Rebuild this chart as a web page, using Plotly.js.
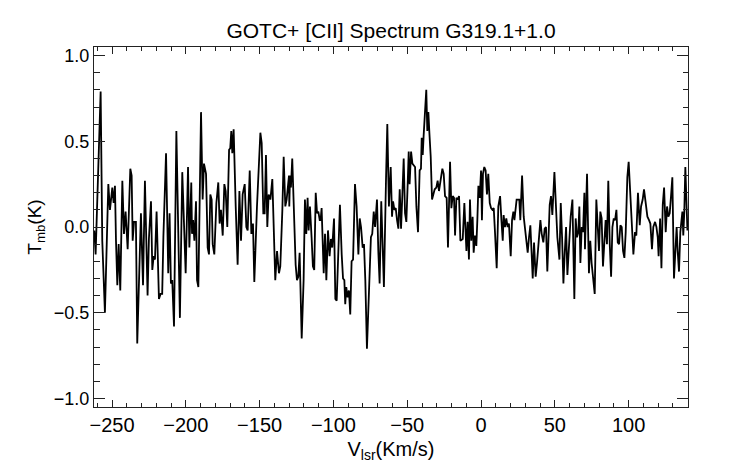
<!DOCTYPE html>
<html>
<head>
<meta charset="utf-8">
<script src="https://cdn.plot.ly/plotly-3.0.1.min.js"></script>
<style>html,body{margin:0;padding:0;background:#fff;}#chart{width:742px;height:464px;}</style>
</head>
<body>
<div id="chart"></div>
<script>
// Velocity (km/s) and main-beam temperature (K), in six segments
const vel1 = [-262.0,-261.1,-257.7,-256.6,-254.8,-252.5,-251.4,-249.8,-248.9,-248.0,-247.3,-246.4,-245.5,-244.4,-243.0,-241.9,-240.8,-239.4,-237.6,-236.7,-236.0,-235.1,-233.8,-232.9,-230.4,-229.0,-227.7,-225.9,-225.0,-223.6,-222.7,-221.8,-220.9,-219.8,-218.2,-217.1,-216.0,-215.2,-213.4,-211.9,-211.0,-210.1,-209.2,-208.0,-206.4,-205.1,-204.0,-202.4,-201.0,-200.1,-198.5,-197.6,-196.3];
const tmb1 = [-0.02,-0.16,0.79,-0.08,-0.50,0.25,0.10,0.23,0.14,0.24,-0.08,-0.34,-0.10,-0.37,0.27,-0.04,0.09,-0.13,0.34,0.30,-0.08,0.03,0.03,-0.68,0.08,-0.34,0.27,-0.40,-0.07,0.15,-0.25,-0.17,-0.19,0.09,-0.42,-0.39,-0.39,-0.06,0.43,-0.27,0.08,-0.33,-0.31,-0.58,0.56,-0.02,-0.53,0.32,-0.12,-0.27,0.35,-0.12,0.26];

const vel2 = [-195.8,-195.1,-194.2,-193.1,-192.4,-191.5,-189.7,-188.6,-187.7,-186.3,-185.2,-184.3,-183.4,-182.5,-181.8,-180.7,-179.3,-178.0,-177.1,-176.2,-175.0,-173.9,-173.0,-171.9,-170.7,-169.9,-169.2,-168.5,-167.6,-166.2,-164.9,-163.7,-162.6,-161.5,-160.1,-159.0,-158.1,-156.7,-155.6,-154.5,-153.6,-151.8,-149.5,-148.6,-147.5,-146.6,-145.7,-144.8,-143.9,-142.7,-141.4,-139.4,-138.2,-136.9,-136.0,-134.6,-133.7,-132.6,-131.7,-130.1];
const tmb2 = [-0.04,0.04,-0.08,0.15,-0.31,-0.35,0.67,0.16,0.37,0.31,-0.12,-0.16,0.19,0.16,-0.10,-0.16,0.14,0.26,0.02,0.10,-0.05,0.25,0.21,0.00,0.45,0.46,0.56,0.43,0.57,0.12,-0.22,0.21,-0.08,0.19,0.25,0.00,-0.02,0.33,-0.04,0.02,-0.32,0.12,0.55,0.49,0.08,0.08,0.42,0.00,0.19,0.16,0.28,-0.31,-0.14,-0.27,-0.23,0.10,0.41,0.12,0.16,0.30];

const vel3 = [-129.9,-129.4,-128.8,-127.9,-126.7,-125.6,-124.7,-123.8,-122.9,-121.5,-120.2,-119.3,-118.4,-117.5,-116.8,-115.9,-114.8,-113.9,-113.0,-112.0,-111.1,-110.2,-109.3,-108.7,-108.0,-106.6,-105.7,-104.8,-103.7,-102.6,-101.7,-100.8,-99.6,-98.7,-97.8,-96.7,-95.6,-94.4,-93.5,-92.6,-92.0,-91.3,-90.4,-89.5,-88.6,-87.7,-86.7,-85.4,-84.3,-83.1,-82.2,-81.3,-80.2,-79.3,-78.4,-77.3,-75.9,-74.6,-73.7,-72.7,-71.8,-70.5,-69.6,-68.7,-67.6,-66.7,-65.8,-64.4,-63.5];
const tmb3 = [0.12,0.30,0.23,0.40,0.10,-0.22,-0.31,-0.29,-0.15,-0.65,-0.31,0.16,-0.04,0.17,-0.02,0.12,-0.06,-0.23,-0.25,0.20,0.08,0.09,0.04,0.04,0.11,-0.27,-0.04,-0.31,-0.02,-0.17,-0.07,-0.12,0.05,-0.42,-0.43,-0.08,0.13,-0.16,-0.30,-0.31,-0.45,-0.35,-0.41,-0.37,-0.51,-0.20,-0.19,0.25,0.12,-0.16,0.05,0.00,-0.12,-0.10,-0.31,-0.71,-0.33,-0.06,-0.04,0.09,0.00,0.16,-0.14,-0.33,0.15,-0.08,-0.35,0.27,0.60];

const vel4 = [-62.4,-61.2,-60.3,-59.6,-58.7,-57.8,-56.9,-56.0,-55.1,-54.2,-53.3,-52.4,-51.5,-50.6,-49.7,-49.0,-48.4,-47.4,-46.5,-45.6,-44.7,-43.8,-42.7,-41.6,-40.7,-40.2,-39.5,-38.9,-38.0,-37.1,-36.4,-35.7,-35.0,-34.1,-33.2,-32.3,-31.4,-30.3,-29.4,-28.5,-27.4,-26.2,-25.3,-24.4,-23.3,-22.4,-21.0,-20.1,-19.2,-18.3,-17.6,-16.7,-15.8,-14.9,-14.0,-12.4,-11.3,-9.9,-9.1,-8.2,-7.5,-6.6,-5.7,-5.0,-4.1,-3.2,-2.5,-1.8,-0.9,0.0,0.6,1.3,2.2,3.1];
const tmb4 = [0.12,0.35,0.06,0.15,0.10,0.11,0.04,-0.01,0.22,-0.01,0.19,0.40,0.08,0.03,0.25,0.44,0.25,0.44,0.37,0.36,0.35,0.12,-0.03,0.33,0.34,0.52,0.42,0.53,0.66,0.80,0.56,0.67,0.55,0.41,0.16,0.19,0.22,0.23,0.27,0.21,0.27,0.34,0.31,0.18,0.17,-0.12,0.38,0.11,0.18,0.17,-0.05,0.17,0.16,0.18,-0.08,-0.07,0.14,-0.14,0.03,-0.19,0.16,-0.08,0.06,-0.15,-0.05,-0.11,0.04,0.24,0.17,0.33,0.04,0.31,0.35,0.33];

const vel5 = [4.0,4.9,5.9,6.8,7.7,8.6,9.5,10.6,11.7,12.9,13.8,14.7,15.3,16.2,17.1,18.0,18.9,19.6,20.1,21.0,21.9,22.6,23.2,24.1,25.0,25.9,26.6,27.8,28.9,29.8,30.7,31.6,32.5,33.4,34.3,35.0,35.9,37.0,37.9,38.8,40.2,41.1,42.2,43.1,44.0,44.9,46.5,47.4,48.3,49.7,50.6,51.7,53.1,54.0,54.9,55.8,56.7,57.6,58.5,59.6,60.7,61.9,63.2,64.1,65.0,65.9,66.6,67.3,68.2,69.1,70.0];
const tmb5 = [0.19,0.31,0.14,0.11,0.10,0.11,-0.04,-0.24,0.12,0.18,0.04,-0.08,0.07,0.00,0.05,0.00,0.02,-0.06,-0.17,0.04,0.09,0.04,0.11,0.16,0.16,0.16,0.04,0.30,0.06,0.00,-0.06,-0.15,-0.06,0.01,-0.16,-0.30,-0.09,-0.29,-0.21,-0.10,0.04,-0.04,-0.09,-0.01,0.00,-0.26,0.13,0.18,0.07,0.32,0.12,-0.06,-0.19,0.14,-0.06,-0.33,-0.15,0.00,-0.28,-0.06,0.06,0.16,-0.42,0.05,-0.06,-0.03,0.12,-0.21,0.00,-0.03,0.20];

const vel6 = [70.4,71.8,73.1,74.0,74.9,75.9,77.0,78.1,79.0,79.9,80.8,81.7,82.6,83.5,84.4,85.3,86.2,87.2,88.1,89.0,89.9,90.8,91.7,92.6,93.5,94.4,95.3,96.2,97.1,98.0,99.1,100.0,100.9,101.8,103.2,104.3,105.2,106.3,107.5,108.4,109.5,110.4,111.5,112.7,113.8,114.7,115.8,116.7,117.9,118.8,119.7,120.3,121.3,122.2,123.1,124.0,125.1,126.0,126.9,127.8,128.7,129.6,130.7,131.6,132.5,133.2,134.1,135.0,135.7,136.4,137.0,137.7,138.4,139.1,139.8,140.5];
const tmb6 = [-0.13,0.31,-0.27,-0.08,-0.21,-0.31,-0.39,0.16,0.00,-0.14,0.09,0.05,-0.23,-0.06,0.04,-0.10,0.27,-0.10,-0.29,0.00,0.05,0.04,0.10,-0.09,-0.10,0.01,0.00,-0.14,-0.18,-0.03,0.29,0.38,0.21,0.02,-0.16,-0.03,-0.05,0.20,0.01,0.12,0.16,0.22,0.14,0.06,0.04,0.02,-0.13,0.00,0.03,0.00,-0.06,-0.17,0.05,-0.24,0.13,0.23,-0.03,0.12,0.06,0.08,0.18,0.29,-0.30,-0.10,0.00,-0.14,-0.26,-0.03,0.05,0.09,-0.05,0.09,0.35,0.21,-0.02,0.02];

const xTickVals = [-250, -200, -150, -100, -50, 0, 50, 100];
const yTickVals = [-1.0, -0.5, 0.0, 0.5, 1.0];

const titleText = 'GOTC+ [CII] Spectrum G319.1+1.0';
const xTitle = 'V<sub>lsr</sub>(Km/s)';
const yTitle = 'T<sub>mb</sub>(K)';

const vel = [].concat(vel1, vel2, vel3, vel4, vel5, vel6);
const tmb = [].concat(tmb1, tmb2, tmb3, tmb4, tmb5, tmb6);

const FONT = 'Liberation Sans, Arial, Helvetica, sans-serif';
const AX = '#222222';

const trace = {
  x: vel, y: tmb, type: 'scatter', mode: 'lines',
  line: {color: '#000000', width: 1.8},
  hoverinfo: 'skip'
};

const layout = {
  width: 742, height: 464,
  margin: {l: 94, r: 54, t: 47, b: 57},
  paper_bgcolor: '#ffffff', plot_bgcolor: '#ffffff',
  showlegend: false,
  font: {family: FONT, color: '#000000'},
  title: {text: titleText, font: {family: FONT, size: 21, color: '#000000'},
          x: 0.5, xref: 'paper', xanchor: 'center', y: 1 - 31/464, yref: 'container', yanchor: 'middle'},
  xaxis: {
    range: [-262.2, 140.2], tickmode: 'array', tickvals: xTickVals,
    ticktext: xTickVals.map(v => (v < 0 ? '\u2212' + Math.abs(v) : String(v))),
    ticks: 'inside', ticklen: 7, tickwidth: 1, tickcolor: AX,
    showline: true, linecolor: AX, linewidth: 1, mirror: 'allticks',
    showgrid: false, zeroline: false,
    tickfont: {family: FONT, size: 20, color: '#000000'},
    minor: {ticks: 'inside', ticklen: 4, tickwidth: 1, tickcolor: AX, dtick: 10, tick0: 0, showgrid: false},
    title: {text: xTitle, font: {family: FONT, size: 20, color: '#000000'}, standoff: 6}
  },
  yaxis: {
    range: [-1.05, 1.05], tickmode: 'array', tickvals: yTickVals,
    ticktext: yTickVals.map(v => (v < 0 ? '\u2212' + Math.abs(v).toFixed(1) : v.toFixed(1))),
    ticks: 'inside', ticklen: 11, tickwidth: 1, tickcolor: AX,
    showline: true, linecolor: AX, linewidth: 1, mirror: 'allticks',
    showgrid: false, zeroline: false,
    tickfont: {family: FONT, size: 18, color: '#000000'},
    minor: {ticks: 'inside', ticklen: 5.5, tickwidth: 1, tickcolor: AX, dtick: 0.1, tick0: 0, showgrid: false},
    title: {text: yTitle, font: {family: FONT, size: 19, color: '#000000'}, standoff: 7}
  }
};

Plotly.newPlot('chart', [trace], layout, {displayModeBar: false, staticPlot: true});
</script>
</body>
</html>
